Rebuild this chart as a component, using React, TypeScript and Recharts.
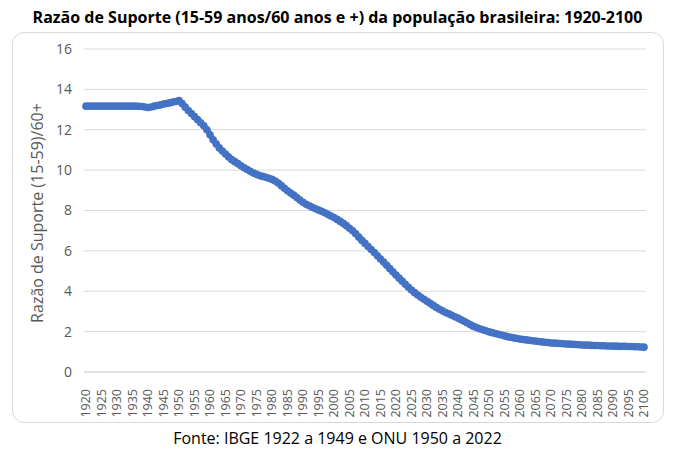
import React from 'react';
import { LineChart, Line, XAxis, YAxis, CartesianGrid } from 'recharts';

const TITLE = 'Razão de Suporte (15-59 anos/60 anos e +) da população brasileira: 1920-2100';
const Y_LABEL = 'Razão de Suporte (15-59)/60+';
const SOURCE = 'Fonte: IBGE 1922 a 1949 e ONU 1950 a 2022';

const FIRST_YEAR = 1920;
const Y_TICKS = [0, 2, 4, 6, 8, 10, 12, 14, 16];

// one value per year, 1920 ... 2100
const ratio1920s = [13.17, 13.17, 13.17, 13.17, 13.17, 13.17, 13.17, 13.17, 13.17, 13.17];
const ratio1930s = [13.17, 13.17, 13.17, 13.17, 13.17, 13.17, 13.17, 13.16, 13.15, 13.13];
const ratio1940s = [13.1, 13.13, 13.17, 13.2, 13.23, 13.27, 13.3, 13.33, 13.37, 13.4];
const ratio1950s = [13.45, 13.3, 13.12, 12.95, 12.8, 12.65, 12.5, 12.35, 12.2, 12.0];
const ratio1960s = [11.75, 11.5, 11.3, 11.1, 10.95, 10.8, 10.65, 10.52, 10.42, 10.32];
const ratio1970s = [10.22, 10.12, 10.03, 9.94, 9.86, 9.79, 9.73, 9.69, 9.65, 9.6];
const ratio1980s = [9.54, 9.46, 9.36, 9.23, 9.1, 8.98, 8.87, 8.76, 8.64, 8.52];
const ratio1990s = [8.41, 8.31, 8.23, 8.16, 8.09, 8.02, 7.96, 7.89, 7.81, 7.73];
const ratio2000s = [7.65, 7.56, 7.46, 7.36, 7.25, 7.12, 7.0, 6.85, 6.68, 6.52];
const ratio2010s = [6.37, 6.22, 6.07, 5.92, 5.76, 5.6, 5.45, 5.29, 5.12, 4.96];
const ratio2020s = [4.8, 4.65, 4.5, 4.35, 4.2, 4.06, 3.93, 3.81, 3.7, 3.6];
const ratio2030s = [3.5, 3.4, 3.3, 3.2, 3.11, 3.03, 2.95, 2.88, 2.81, 2.74];
const ratio2040s = [2.67, 2.59, 2.51, 2.43, 2.34, 2.26, 2.2, 2.14, 2.09, 2.04];
const ratio2050s = [1.99, 1.95, 1.91, 1.87, 1.83, 1.79, 1.75, 1.72, 1.69, 1.66];
const ratio2060s = [1.63, 1.61, 1.59, 1.57, 1.55, 1.53, 1.51, 1.49, 1.47, 1.46];
const ratio2070s = [1.44, 1.43, 1.42, 1.41, 1.4, 1.39, 1.38, 1.37, 1.36, 1.35];
const ratio2080s = [1.34, 1.33, 1.33, 1.32, 1.31, 1.31, 1.3, 1.3, 1.29, 1.29];
const ratio2090s = [1.28, 1.28, 1.27, 1.27, 1.27, 1.26, 1.26, 1.25, 1.25, 1.24];
const ratio2100 = [1.23];

const ratios = [
  ...ratio1920s, ...ratio1930s, ...ratio1940s, ...ratio1950s, ...ratio1960s,
  ...ratio1970s, ...ratio1980s, ...ratio1990s, ...ratio2000s, ...ratio2010s,
  ...ratio2020s, ...ratio2030s, ...ratio2040s, ...ratio2050s, ...ratio2060s,
  ...ratio2070s, ...ratio2080s, ...ratio2090s, ...ratio2100,
];

const data = ratios.map((value, i) => ({ year: String(FIRST_YEAR + i), value }));

const FONT = '"Open Sans", "Noto Sans", sans-serif';
const BLUE = '#4472C4';
const GREY_TEXT = '#595959';

const YearTick = (props: any) => {
  const { x, y, payload } = props;
  return (
    <text
      transform={`translate(${x},${y + 9}) rotate(-90)`}
      textAnchor="end"
      dy="0.35em"
      fill={GREY_TEXT}
      fontSize={12.5}
      fontFamily={FONT}
    >
      {payload.value}
    </text>
  );
};

export default function App() {
  return (
    <div style={{ position: 'absolute', left: 0, top: 0, width: 675, height: 455, background: '#fff', fontFamily: FONT }}>
      <div
        style={{
          position: 'absolute', left: 0, top: 6, width: 675, textAlign: 'center',
          fontWeight: 700, fontSize: 16, color: '#000', whiteSpace: 'nowrap',
        }}
      >
        {TITLE}
      </div>
      <div
        style={{
          position: 'absolute', left: 12, top: 32, width: 652, height: 391,
          border: '1px solid #d9d9d9', borderRadius: 12, boxSizing: 'border-box',
        }}
      />
      <div
        style={{
          position: 'absolute', left: 37, top: 213, transform: 'translate(-50%, -50%) rotate(-90deg)',
          fontSize: 16, color: GREY_TEXT, whiteSpace: 'nowrap',
        }}
      >
        {Y_LABEL}
      </div>
      <div style={{ position: 'absolute', left: 0, top: 0 }}>
        <LineChart width={675} height={455} data={data} margin={{ top: 49, right: 29, left: 0, bottom: 43 }}>
          <CartesianGrid vertical={false} stroke="#d9d9d9" />
          <XAxis
            dataKey="year"
            interval={4}
            tick={<YearTick />}
            tickLine={false}
            axisLine={{ stroke: '#d9d9d9' }}
            height={40}
            padding={{ left: 2, right: 2 }}
          />
          <YAxis
            domain={[0, 16]}
            ticks={Y_TICKS}
            width={84}
            tickLine={false}
            axisLine={false}
            tickMargin={6}
            tick={{ fill: GREY_TEXT, fontSize: 14, fontFamily: FONT }}
          />
          <Line
            type="linear"
            dataKey="value"
            stroke={BLUE}
            strokeWidth={5.5}
            strokeLinejoin="round"
            dot={{ r: 3.8, fill: BLUE, stroke: BLUE, strokeWidth: 0 }}
            isAnimationActive={false}
          />
        </LineChart>
      </div>
      <div
        style={{
          position: 'absolute', left: 0, top: 427, width: 675, textAlign: 'center',
          fontSize: 16, color: '#000', whiteSpace: 'nowrap',
        }}
      >
        {SOURCE}
      </div>
    </div>
  );
}
